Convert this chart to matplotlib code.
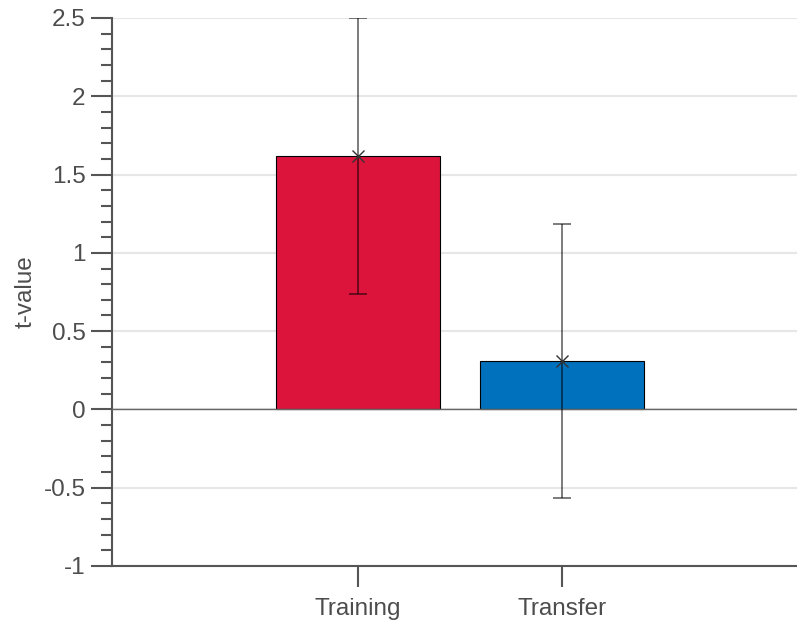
import matplotlib
matplotlib.use("Agg")
import matplotlib.pyplot as plt
from matplotlib.ticker import MultipleLocator

plt.rcParams['font.family'] = ['Liberation Sans', 'DejaVu Sans']

conditions = ["Training", "Transfer"]
t_values = [1.62, 0.31]
t_errors = [0.88, 0.875]
bar_colors = ["#DC143C", "#0072BD"]

W, H = 797, 625
fig = plt.figure(figsize=(W / 100, H / 100), dpi=100)

left, right = 112, 808
top, bottom = 18, 566
ax = fig.add_axes([left / W, 1 - bottom / H, (right - left) / W, (bottom - top) / H])

text_col = "#4d4d4d"
axis_col = "#555555"
fs = 17.5

x = list(range(len(conditions)))
ax.bar(x, t_values, width=0.8, color=bar_colors, edgecolor="black", linewidth=0.8, zorder=3)
ax.errorbar(x, t_values, yerr=t_errors, fmt="none", ecolor="black", alpha=0.6,
            elinewidth=1.2, capsize=6.5, capthick=1.2, zorder=4)
ax.plot(x, t_values, linestyle="none", marker="x", color="#333333", markersize=8,
        markeredgewidth=1.0, zorder=5)

ax.axhline(0, color="#666666", linewidth=1.0, zorder=3.5)

ax.set_xlim(-1.206, 2.206)
ax.set_ylim(-1, 2.5)
ax.set_xticks(x)
ax.set_xticklabels(conditions)
ax.yaxis.set_minor_locator(MultipleLocator(0.1))
ax.set_yticks([-1, -0.5, 0, 0.5, 1, 1.5, 2, 2.5])
ax.set_yticklabels(["-1", "-0.5", "0", "0.5", "1", "1.5", "2", "2.5"])

ax.grid(axis="y", which="major", color="#e6e6e6", linewidth=1.5, zorder=0)
ax.set_axisbelow(True)

for s in ["top", "right"]:
    ax.spines[s].set_visible(False)
for s in ["left", "bottom"]:
    ax.spines[s].set_color(axis_col)
    ax.spines[s].set_linewidth(1.5)

ax.tick_params(axis="y", which="major", length=15, width=1.5, color=axis_col,
               labelsize=fs, labelcolor=text_col, pad=4)
ax.tick_params(axis="y", which="minor", length=8, width=1.5, color=axis_col)
ax.tick_params(axis="x", which="major", length=15, width=1.5, color=axis_col,
               labelsize=fs, labelcolor=text_col, pad=8)

ax.set_ylabel("t-value", fontsize=fs, color=text_col)
ax.yaxis.set_label_coords(-0.108, 0.5)

fig.savefig("out.png", dpi=100)
